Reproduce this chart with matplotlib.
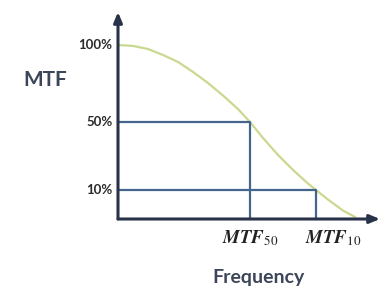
import numpy as np
import matplotlib.pyplot as plt

# ── Datos ───────────────────────────────────────────────────────────────────
freq = [0, 15, 30, 45, 60, 75, 90, 105, 120, 132, 145, 160, 175, 190,
        198, 210, 225, 237]
mtf = [100, 99.4, 97.4, 93.5, 89, 82.5, 75.3, 67.2, 58.4, 50, 40.6, 30.6,
       21.8, 13.8, 10, 6.7, 2.9, 0.7]

levels = [100, 50, 10]
level_labels = ['100%', '50%', '10%']
mtf50_freq = 132
mtf10_freq = 198
marker_labels = [r'$\mathbfit{MTF}_{50}$', r'$\mathbfit{MTF}_{10}$']

# Escala no lineal del esquema (altura relativa de cada nivel)
scale_lv = [0, 10, 50, 100, 200]
scale_px = [0, 29, 97, 174, 328]


def fwd(v):
    return np.interp(v, scale_lv, scale_px)


def inv(h):
    return np.interp(h, scale_px, scale_lv)


plt.rcParams['mathtext.fontset'] = 'stix'

fig = plt.figure(figsize=(3.82, 2.91), dpi=100)
ax = fig.add_axes([118 / 382, 72 / 291, 262 / 382, 207 / 291])
ax.set_yscale('function', functions=(fwd, inv))
ax.set_xlim(0, 262)
ax.set_ylim(0, inv(207))

axis_col = '#283248'
rect_col = '#45668c'
curve_col = '#c9d98f'

# Curva MTF
ax.plot(freq, mtf, color=curve_col, lw=1.6, solid_capstyle='round', zorder=2)

# Rectángulos MTF50 / MTF10
for f, lv in [(mtf50_freq, 50), (mtf10_freq, 10)]:
    ax.plot([0, f, f], [lv, lv, 0], color=rect_col, lw=1.6, zorder=3)

# Ejes con flechas
for s in ax.spines.values():
    s.set_visible(False)
ax.annotate('', xy=(1, 0), xytext=(0, 0), xycoords='axes fraction',
            arrowprops=dict(arrowstyle='-|>,head_length=0.6,head_width=0.25',
                            color=axis_col, lw=2.2, shrinkA=0, shrinkB=0))
ax.annotate('', xy=(0, 1), xytext=(0, 0), xycoords='axes fraction',
            arrowprops=dict(arrowstyle='-|>,head_length=0.6,head_width=0.25',
                            color=axis_col, lw=2.2, shrinkA=0, shrinkB=0))

ax.set_xticks([])
ax.set_yticks([])

# Etiquetas de niveles
for lv, lab in zip(levels, level_labels):
    ax.annotate(lab, (0, lv), xytext=(-4, 0), textcoords='offset points',
                ha='right', va='center', fontsize=9.5, fontweight='bold',
                family='Lato', color='#2a2a2a')

# Etiquetas MTF50 / MTF10
ax.annotate(marker_labels[0], (mtf50_freq, 0), xytext=(0, -14),
            textcoords='offset points', ha='center', va='center',
            fontsize=13.5, color='#222222')
ax.annotate(marker_labels[1], (mtf10_freq, 0), xytext=(12, -14),
            textcoords='offset points', ha='center', va='center',
            fontsize=13.5, color='#222222')

fig.text(45 / 382, 1 - 80 / 291, 'MTF', ha='center', va='center',
         fontsize=15, fontweight='bold', family='Lato', color='#3c4658')
fig.text(258 / 382, 1 - 278 / 291, 'Frequency', ha='center', va='center',
         fontsize=14, fontweight='bold', family='Lato', color='#3c4658')

fig.savefig('out.png', dpi=100)
